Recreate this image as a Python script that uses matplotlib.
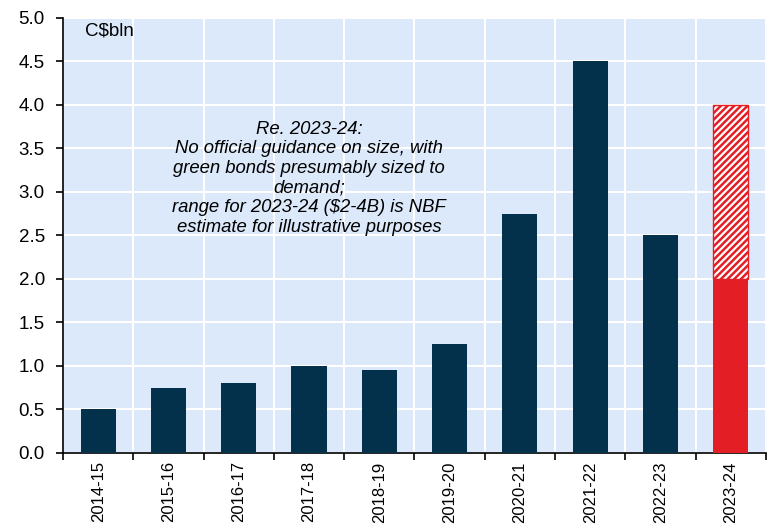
import numpy as np
import matplotlib
matplotlib.use("Agg")
import matplotlib.pyplot as plt

plt.rcParams['font.family'] = ['Liberation Sans', 'DejaVu Sans']
plt.rcParams['hatch.linewidth'] = 1.8

years = ['2014-15', '2015-16', '2016-17', '2017-18', '2018-19',
         '2019-20', '2020-21', '2021-22', '2022-23', '2023-24']
issued = [0.5, 0.75, 0.8, 1.0, 0.95, 1.25, 2.75, 4.5, 2.5, None]
est_low = 2.0   # 2023-24 bottom of range
est_high = 4.0  # 2023-24 top of range

NAVY = '#03304a'
RED = '#e31e24'
BG = '#dce9fb'

fig = plt.figure(figsize=(7.75, 5.29), dpi=100)
ax = fig.add_axes([0.0813, 0.1437, 0.9070, 0.8223])
ax.set_facecolor(BG)

x = np.arange(len(years))
vals = [v for v in issued if v is not None]
ax.bar(x[:len(vals)], vals, width=0.5, color=NAVY, zorder=3)
ax.bar(x[-1], est_low, width=0.5, color=RED, zorder=3)
ax.bar(x[-1], est_high - est_low, bottom=est_low, width=0.5,
       facecolor='white', edgecolor=RED, hatch='/////', linewidth=1.0, zorder=3)

ax.set_xlim(-0.5, len(years) - 0.5)
ax.set_ylim(0, 5)
yt = np.arange(0, 5.01, 0.5)
ax.set_yticks(yt)
ax.set_yticklabels([f'{v:.1f}' for v in yt], fontsize=13.5)

ax.set_xticks(np.arange(-0.5, len(years), 1.0))
ax.set_xticklabels([])
ax.set_xticks(x, minor=True)
ax.set_xticklabels(years, minor=True, rotation=90, fontsize=12)
ax.tick_params(axis='x', which='minor', length=0, pad=6)
ax.tick_params(axis='x', which='major', length=5, width=1.2, direction='out')
ax.tick_params(axis='y', length=5, width=1.2, direction='out', pad=8)

ax.grid(True, which='major', color='white', linewidth=1.5, zorder=0)
ax.set_axisbelow(True)

for s in ['top', 'right']:
    ax.spines[s].set_visible(False)
for s in ['left', 'bottom']:
    ax.spines[s].set_linewidth(1.2)

ax.text(0.031, 0.99, 'C$bln', transform=ax.transAxes, fontsize=13.5,
        va='top', ha='left')

note = ('Re. 2023-24:\nNo official guidance on size, with\n'
        'green bonds presumably sized to\ndemand;\n'
        'range for 2023-24 ($2-4B) is NBF\nestimate for illustrative purposes')
ax.text(3.0, 3.16, note, fontsize=13.3, style='italic', ha='center',
        va='center', linespacing=1.2, zorder=4)

fig.savefig('out.png', dpi=100)
